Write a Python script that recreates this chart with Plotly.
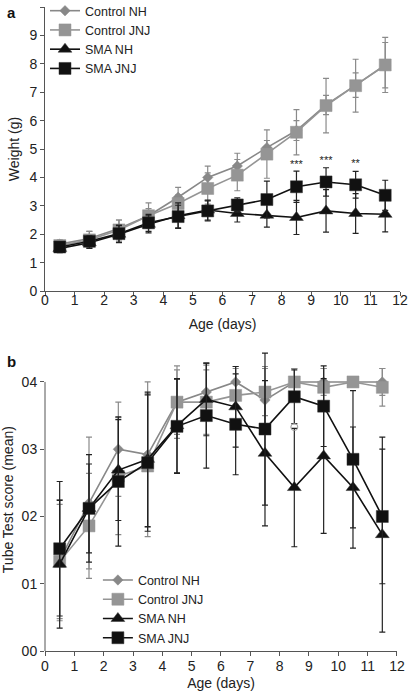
import plotly.graph_objects as go

days = [0.5, 1.5, 2.5, 3.5, 4.5, 5.5, 6.5, 7.5, 8.5, 9.5, 10.5, 11.5]

# Panel a: weight (g)
w_ctrl_nh = [1.65, 1.85, 2.2, 2.65, 3.3, 4.0, 4.4, 5.05, 5.65, 6.55, 7.25, 7.95]
w_ctrl_nh_err = [0.15, 0.25, 0.3, 0.25, 0.35, 0.4, 0.45, 0.25, 0.35, 0.34, 0.43, 0.8]
w_ctrl_jnj = [1.6, 1.8, 2.15, 2.65, 3.08, 3.61, 4.08, 4.82, 5.59, 6.53, 7.23, 7.96]
w_ctrl_jnj_err = [0.15, 0.3, 0.35, 0.45, 0.3, 0.55, 0.55, 0.85, 0.8, 0.96, 0.93, 0.97]
w_sma_nh = [1.5, 1.7, 2.0, 2.35, 2.65, 2.85, 2.73, 2.67, 2.59, 2.82, 2.73, 2.7]
w_sma_nh_err = [0.15, 0.2, 0.3, 0.3, 0.45, 0.35, 0.3, 0.42, 0.6, 0.75, 0.7, 0.62]
w_sma_jnj = [1.55, 1.75, 2.02, 2.4, 2.62, 2.82, 3.03, 3.22, 3.67, 3.84, 3.74, 3.37]
w_sma_jnj_err = [0.15, 0.2, 0.3, 0.3, 0.4, 0.35, 0.25, 0.65, 0.55, 0.5, 0.47, 0.53]

sig_x = [8.5, 9.5, 10.5]
sig_y = [4.42, 4.56, 4.47]
sig_text = ["***", "***", "**"]

# Panel b: tube test score
t_ctrl_nh = [0.135, 0.22, 0.30, 0.292, 0.37, 0.385, 0.40, 0.373, 0.40, 0.40, 0.40, 0.40]
t_ctrl_nh_err = [0.09, 0.098, 0.07, 0.108, 0.054, 0.04, 0.023, 0.05, 0.02, 0.02, 0.0, 0.02]
t_ctrl_jnj = [0.133, 0.186, 0.26, 0.275, 0.37, 0.37, 0.38, 0.385, 0.40, 0.392, 0.40, 0.392]
t_ctrl_jnj_err = [0.085, 0.078, 0.087, 0.105, 0.048, 0.048, 0.04, 0.035, 0.02, 0.028, 0.0, 0.028]
t_sma_nh = [0.129, 0.212, 0.269, 0.285, 0.335, 0.374, 0.363, 0.294, 0.243, 0.29, 0.243, 0.173]
t_sma_nh_err = [0.095, 0.066, 0.075, 0.1, 0.07, 0.054, 0.06, 0.108, 0.088, 0.115, 0.09, 0.145]
t_sma_jnj = [0.152, 0.212, 0.252, 0.28, 0.334, 0.35, 0.337, 0.33, 0.378, 0.364, 0.285, 0.20]
t_sma_jnj_err = [0.1, 0.08, 0.096, 0.102, 0.07, 0.078, 0.075, 0.113, 0.04, 0.06, 0.102, 0.1]

odd_x = [8.5]
odd_y = [0.333]

x_ticks = list(range(0, 13))
wy_ticks = list(range(0, 11))
ty_ticks = [0, 0.1, 0.2, 0.3, 0.4]
ty_text = ["00", "01", "02", "03", "04"]

series_names = ["Control NH", "Control JNJ", "SMA NH", "SMA JNJ"]
styles = [
    dict(color="#888888", symbol="diamond", size=8, err="#8a8a8a"),
    dict(color="#959595", symbol="square", size=12, err="#8a8a8a"),
    dict(color="#111111", symbol="triangle-up", size=12, err="#222222"),
    dict(color="#111111", symbol="square", size=12, err="#222222"),
]

FONT = "Liberation Sans, Arial, sans-serif"
fig = go.Figure()

def add(xs, ys, errs, st, name, xa, ya, legend):
    fig.add_trace(go.Scatter(
        x=xs, y=ys, mode="lines+markers", name=name,
        xaxis=xa, yaxis=ya, legend=legend,
        line=dict(color=st["color"], width=1.6),
        marker=dict(symbol=st["symbol"], size=st["size"], color=st["color"],
                    line=dict(color="#333333" if st["color"] == "#111111" else st["color"], width=0.5)),
        error_y=dict(type="data", array=errs, visible=True, color=st["err"],
                     thickness=1.2, width=3),
        cliponaxis=False,
    ))

for ys, es, st, nm in zip([w_ctrl_nh, w_ctrl_jnj, w_sma_nh, w_sma_jnj],
                          [w_ctrl_nh_err, w_ctrl_jnj_err, w_sma_nh_err, w_sma_jnj_err],
                          styles, series_names):
    add(days, ys, es, st, nm, "x", "y", "legend")

for ys, es, st, nm in zip([t_ctrl_nh, t_ctrl_jnj, t_sma_nh, t_sma_jnj],
                          [t_ctrl_nh_err, t_ctrl_jnj_err, t_sma_nh_err, t_sma_jnj_err],
                          styles, series_names):
    add(days, ys, es, st, nm, "x2", "y2", "legend2")

fig.add_trace(go.Scatter(
    x=odd_x, y=odd_y, mode="markers", showlegend=False, xaxis="x2", yaxis="y2",
    marker=dict(symbol="circle-open", size=7, color="#999999", line=dict(width=1)),
))

fig.add_trace(go.Scatter(
    x=sig_x, y=sig_y, mode="text", text=sig_text, showlegend=False,
    xaxis="x", yaxis="y", textfont=dict(size=11, color="#222222", family=FONT),
))

axis_common = dict(showgrid=False, zeroline=False, ticks="outside", ticklen=4,
                   tickcolor="#555555", linecolor="#555555", linewidth=1,
                   automargin=False,
                   tickfont=dict(size=14, color="#222222", family=FONT),
                   title_font=dict(size=14, color="#222222", family=FONT))

fig.update_layout(
    width=409, height=691,
    margin=dict(l=45, r=9, t=7, b=40, autoexpand=False),
    paper_bgcolor="white", plot_bgcolor="white",
    font=dict(family=FONT, size=14, color="#222222"),
    xaxis=dict(domain=[0, 1], range=[0, 12], tickvals=x_ticks, showline=True,
               anchor="y", title=dict(text="Age (days)", standoff=12),
               ticklabelstandoff=-8, **axis_common),
    yaxis=dict(domain=[0.559, 1.0], range=[0, 10], tickvals=wy_ticks, showline=True,
               anchor="x", title=dict(text="Weight (g)", standoff=6), **axis_common),
    xaxis2=dict(domain=[0, 0.9915], range=[0, 12], tickvals=x_ticks, showline=True,
                anchor="y2", title=dict(text="Age (days)", standoff=5),
                ticklabelstandoff=-2, **axis_common),
    yaxis2=dict(domain=[0, 0.47], range=[0, 0.45], tickvals=ty_ticks, ticktext=ty_text,
                showline=False, anchor="x2",
                title=dict(text="Tube Test score (mean)", standoff=6), **axis_common),
    legend=dict(x=0.0, y=1.017, xanchor="left", yanchor="top",
                bgcolor="rgba(0,0,0,0)",
                font=dict(size=12.5, family=FONT, color="#222222"), tracegroupgap=0),
    legend2=dict(x=0.149, y=0.133, xanchor="left", yanchor="top", bgcolor="rgba(0,0,0,0)",
                 font=dict(size=12.5, family=FONT, color="#222222"), tracegroupgap=0),
    shapes=[dict(type="line", xref="x2 domain", yref="y2", x0=0, x1=0, y0=0, y1=0.4,
                 line=dict(color="#555555", width=1))],
    annotations=[
        dict(text="<b>a</b>", xref="paper", yref="paper", x=-0.113, y=1.008,
             xanchor="left", yanchor="top", showarrow=False, font=dict(size=15, family=FONT, color="#111111")),
        dict(text="<b>b</b>", xref="paper", yref="paper", x=-0.113, y=0.466,
             xanchor="left", yanchor="top", showarrow=False, font=dict(size=15, family=FONT, color="#111111")),
    ],
)

# remove the browser's default 8px body margin so the 409x691 figure fills the window exactly
fig.write_html("out.html", config={"displayModeBar": False},
               post_script="document.body.style.margin='0';document.body.style.overflow='hidden';")
